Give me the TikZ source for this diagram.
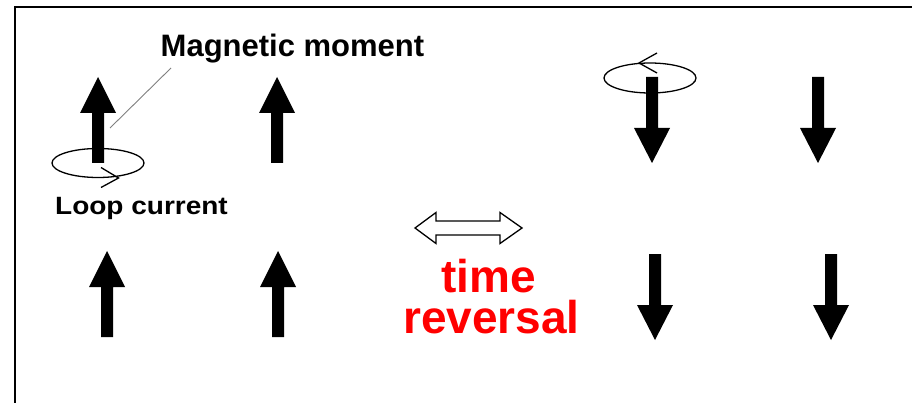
\documentclass[tikz,border=0pt]{standalone}
\usepackage{fontspec}
\setmainfont{Liberation Sans}
\begin{document}
\begin{tikzpicture}[x=1pt,y=-1pt,
  spinup/.pic={\fill[black] (-6,0) -- (-6,-50) -- (-18,-50) -- (0,-86) -- (18,-50) -- (6,-50) -- (6,0) -- cycle;},
  spindown/.pic={\fill[black] (-6,0) -- (-6,51) -- (-18,51) -- (0,86) -- (18,51) -- (6,51) -- (6,0) -- cycle;},
  loopline/.style={draw=black, line width=1.3pt},
  chev/.style={draw=black, line width=1.3pt},
  lbl/.style={inner sep=0pt, anchor=base, font=\bfseries},
  redlbl/.style={lbl, text=red, font=\fontsize{46}{46}\selectfont\bfseries}]
\useasboundingbox (0,0) rectangle (912,403);
\fill[white] (0,0) rectangle (912,403);
% frame (cut at right and bottom)
\draw[line width=1.6pt, black] (15,403) -- (15,7) -- (912,7);

% loop currents
\draw[loopline] (98,163) ellipse [x radius=46, y radius=14.5];
\draw[chev] (101,167.5) -- (118.5,178) -- (101,187.5);
\draw[loopline] (650,78) ellipse [x radius=46, y radius=15];
\draw[chev] (657,53) -- (639,63) -- (657,73);

% upper row
\pic at (98,163) {spinup};
\pic at (277,163) {spinup};
\pic at (652,77) {spindown};
\pic at (818,77) {spindown};
% lower row
\pic at (107,337) {spinup};
\pic at (278,337) {spinup};
\pic at (655,254) {spindown};
\pic at (831,254) {spindown};

% labels
\node[lbl, font=\fontsize{31}{31}\selectfont\bfseries] (mm) at (292.5,57) {Magnetic moment};
\coordinate (mmfoot) at (171,68);
\coordinate (mmtip) at (110,128);
\draw[gray, line width=0.9pt] (mmfoot) -- (mmtip);
\node[lbl, font=\fontsize{25}{25}\selectfont\bfseries] (lc) at (141.5,215) {\scalebox{1.12}[1]{Loop current}};

% double arrow
\draw[black, line width=1.3pt, fill=white, line join=miter]
  (415,228) -- (436,212.5) -- (436,221) -- (500,221) -- (500,212.5) -- (522,228)
  -- (500,243.5) -- (500,235) -- (436,235) -- (436,243.5) -- cycle;
\node[redlbl] (t1) at (488.5,292) {time};
\node[redlbl] (t2) at (491.5,333) {reversal};
\end{tikzpicture}
\end{document}
